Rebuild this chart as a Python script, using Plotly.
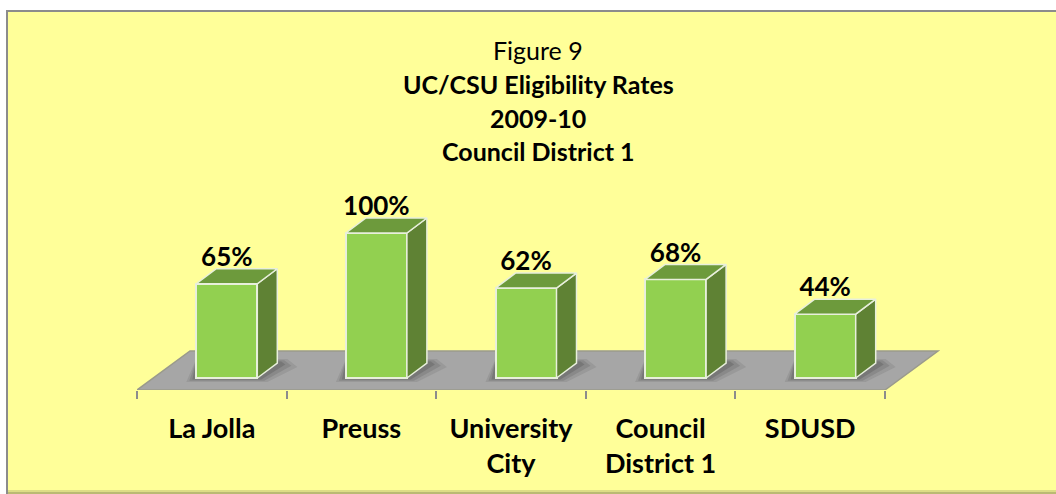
"""UC/CSU eligibility rates, drawn as a faux-3D column chart."""
import plotly.graph_objects as go

CATEGORIES = ["La Jolla", "Preuss", "University<br>City", "Council<br>District 1", "SDUSD"]
RATES = [65, 100, 62, 68, 44]
TITLE_LINES = ["Figure 9", "<b>UC/CSU Eligibility Rates</b>", "<b>2009-10</b>", "<b>Council District 1</b>"]
TITLE_Y_PX = [50, 84, 118, 151]

W, H = 1056, 494
FONT = "Lato, Carlito, sans-serif"
BG = "#ffff99"
FRONT = "#92d050"
SIDE = "#5f8234"
TOP = "#6d9a3c"
EDGE = "#e8efdc"
FLOOR = "#a6a6a6"

# pixel frame of the chart
X0_PX, STEP_PX = 137, 149.6
Y0_PX, PCT_PX = 378, 1.45
BOTTOM_PX, TOP_PX, RIGHT_PX = 390, 190, 942
BAR_W = 61 / STEP_PX
DX, DY = 20 / STEP_PX, 15 / PCT_PX          # column depth, in data units
SHIFT = 15 / STEP_PX                        # columns sit right of the tick-label centre
FLOOR_DX = 53 / STEP_PX
FLOOR_FRONT = -(BOTTOM_PX - Y0_PX) / PCT_PX
FLOOR_BACK = (Y0_PX - 351) / PCT_PX

ticks = list(range(len(CATEGORIES)))
xs = [t + SHIFT for t in ticks]
fig = go.Figure()

# front faces
fig.add_trace(go.Bar(
    x=xs, y=RATES, width=BAR_W, marker=dict(color=FRONT, line=dict(color=EDGE, width=2)),
    showlegend=False, hovertemplate="%{y}%<extra></extra>"))

# side and top faces
for x, v in zip(xs, RATES):
    r = x + BAR_W / 2
    l = x - BAR_W / 2
    fig.add_trace(go.Scatter(
        x=[r, r + DX, r + DX, r, r], y=[0, DY, v + DY, v, 0], mode="lines",
        fill="toself", fillcolor=SIDE, line=dict(color=EDGE, width=1.5),
        showlegend=False, hoverinfo="skip"))
    fig.add_trace(go.Scatter(
        x=[l, l + DX, r + DX, r, l], y=[v, v + DY, v + DY, v, v], mode="lines",
        fill="toself", fillcolor=TOP, line=dict(color=EDGE, width=1.5),
        showlegend=False, hoverinfo="skip"))

# value labels
fig.add_trace(go.Scatter(
    x=xs, y=[v + DY * 0.75 for v in RATES], mode="text",
    text=[f"<b>{v}%</b>" for v in RATES], textposition="top center",
    textfont=dict(family=FONT, size=26, color="#000000"),
    showlegend=False, hoverinfo="skip"))

# yellow card with grey top/left border, faint shadow along the bottom
shapes = [
    dict(type="rect", layer="below", xref="paper", yref="paper",
         x0=6 / W, x1=1, y0=0, y1=1 - 10 / H, fillcolor="#8c8c8c", line=dict(width=0)),
    dict(type="rect", layer="below", xref="paper", yref="paper",
         x0=8 / W, x1=1, y0=0, y1=1 - 12 / H, fillcolor=BG, line=dict(width=0)),
    dict(type="rect", layer="below", xref="paper", yref="paper",
         x0=8 / W, x1=1, y0=0, y1=4 / H, fillcolor="rgba(120,120,80,0.25)", line=dict(width=0)),
    dict(type="rect", layer="below", xref="paper", yref="paper",
         x0=8 / W, x1=1, y0=0, y1=2 / H, fillcolor="rgba(120,120,80,0.35)", line=dict(width=0)),
]

# floor + soft shadows behind the columns
shapes.append(dict(
    type="path", layer="below", xref="x", yref="y",
    path=f"M -0.5 {FLOOR_FRONT} L {4.5} {FLOOR_FRONT} L {4.5 + FLOOR_DX} {FLOOR_BACK} "
         f"L {-0.5 + FLOOR_DX} {FLOOR_BACK} Z",
    fillcolor=FLOOR, line=dict(color="#9a9a8c", width=1.5)))
for x in xs:
    for grow, alpha in [(1.0, 0.10), (0.7, 0.14), (0.4, 0.18)]:
        pad = 10 * grow / STEP_PX
        drop = 4 * grow / PCT_PX
        l, r = x - BAR_W / 2, x + BAR_W / 2
        shapes.append(dict(
            type="path", layer="below", xref="x", yref="y",
            path=f"M {l - pad} {-drop} L {r + pad} {-drop} L {r + DX + 2 * pad} {DY - drop} "
                 f"L {r + DX + pad} {DY + drop} L {l} {DY + drop} Z",
            fillcolor=f"rgba(40,40,40,{alpha})", line=dict(width=0)))

annotations = [
    dict(text=t, xref="paper", yref="paper", x=538 / W, y=1 - py / H, xanchor="center",
         yanchor="middle", showarrow=False, font=dict(family=FONT, size=25, color="#000000"))
    for t, py in zip(TITLE_LINES, TITLE_Y_PX)
]

fig.update_layout(
    width=W, height=H, margin=dict(l=0, r=0, t=0, b=0),
    paper_bgcolor="#ffffff", plot_bgcolor="rgba(0,0,0,0)",
    font=dict(family=FONT, color="#000000"),
    bargap=0, showlegend=False, shapes=shapes, annotations=annotations,
)
fig.update_xaxes(
    domain=[X0_PX / W, RIGHT_PX / W],
    range=[-0.5, (RIGHT_PX - X0_PX) / STEP_PX - 0.5],
    tickmode="array", tickvals=ticks, ticktext=[f"<b>{c}</b>" for c in CATEGORIES],
    ticks="", ticklen=0, showgrid=False, zeroline=False, showline=False,
    tickfont=dict(family=FONT, size=27, color="#000000"), ticklabelstandoff=20,
    minor=dict(tickmode="array", tickvals=[-0.5, 0.5, 1.5, 2.5, 3.5, 4.5], ticks="outside",
               ticklen=8, tickwidth=1.5, tickcolor="#8c8c8c", showgrid=False),
)
fig.update_yaxes(
    domain=[1 - BOTTOM_PX / H, 1 - TOP_PX / H],
    range=[FLOOR_FRONT, (Y0_PX - TOP_PX) / PCT_PX],
    visible=False,
)

fig.write_html("out.html", config=dict(displayModeBar=False),
               post_script="document.body.style.margin='0';")
